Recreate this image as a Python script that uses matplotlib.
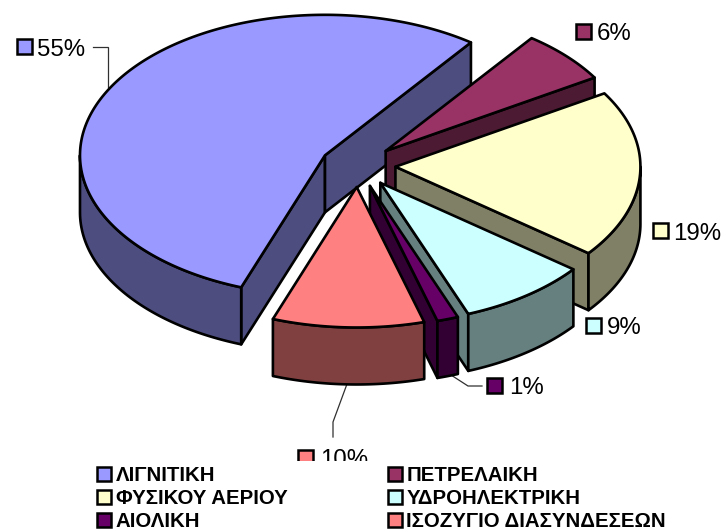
import numpy as np
import matplotlib
matplotlib.use("Agg")
import matplotlib.pyplot as plt
from matplotlib.font_manager import FontProperties
from matplotlib.patches import Polygon, Patch, Rectangle

# ---- data ----
categories = ["ΛΙΓΝΙΤΙΚΗ", "ΠΕΤΡΕΛΑΙΚΗ", "ΦΥΣΙΚΟΥ ΑΕΡΙΟΥ", "ΥΔΡΟΗΛΕΚΤΡΙΚΗ", "ΑΙΟΛΙΚΗ", "ΙΣΟΖΥΓΙΟ ΔΙΑΣΥΝΔΕΣΕΩΝ"]
values = [54.6, 6.1, 19.3, 8.6, 1.4, 10.0]

# ---- style ----
top_colors = ["#9999FF", "#993366", "#FFFFCC", "#CCFFFF", "#660066", "#FF8080"]
side_colors = ["#4D4D80", "#4D1A33", "#808066", "#668080", "#330033", "#804040"]

plt.rcParams["font.family"] = ["Liberation Sans", "DejaVu Sans"]

W, H = 725, 529
fig = plt.figure(figsize=(W / 100, H / 100), dpi=100)
ax = fig.add_axes([0, 0, 1, 1])
ax.set_xlim(0, W)
ax.set_ylim(H, 0)
ax.axis("off")

# 3-D pie projection
CX, CY = 358, 165.5
A, B = 245, 140.5
DEPTH = 57
EXPLODE = 0.153
START = 200
LW = 1.9


def pt(th, r=1.0, ox=0.0, oy=0.0):
    th = np.radians(th)
    return np.column_stack((ox + r * A * np.sin(th), oy - r * B * np.cos(th)))


def poly(xy, color, z):
    ax.add_patch(Polygon(xy, closed=True, facecolor=color, edgecolor="black",
                         linewidth=LW, joinstyle="round", zorder=z))


angle = START
for i, v in enumerate(values):
    a0, a1 = angle, angle + v * 3.6
    angle = a1
    mid = (a0 + a1) / 2
    ox = CX + EXPLODE * A * np.sin(np.radians(mid))
    oy = CY - EXPLODE * B * np.cos(np.radians(mid))
    apex = np.array([[ox, oy]])
    down = np.array([0, DEPTH])
    z = 2 + i
    # radial walls that face the viewer
    for th, visible in ((a0, np.sin(np.radians(a0)) < 0), (a1, np.sin(np.radians(a1)) > 0)):
        if visible:
            e = pt(th, 1, ox, oy)
            poly(np.vstack((apex, e, e + down, apex + down)), side_colors[i], z)
    # outer wall
    for shift in (0, 360):
        lo, hi = max(a0, 90 + shift), min(a1, 270 + shift)
        if hi > lo:
            arc = pt(np.linspace(lo, hi, 80), 1, ox, oy)
            poly(np.vstack((arc, arc[::-1] + down)), side_colors[i], z)
    # top face
    arc = pt(np.linspace(a0, a1, 200), 1, ox, oy)
    poly(np.vstack((apex, arc)), top_colors[i], z)

# ---- data labels (key square + text) ----
key_xy = [(17, 39), (576, 24), (653, 223), (586, 318), (487, 378), (298, 450)]
txt_xy = [(37, 47), (597, 32), (673, 231), (607, 325), (509, 386), (320, 458)]
for i, v in enumerate(values):
    ax.add_patch(Rectangle(key_xy[i], 15, 15, facecolor=top_colors[i], edgecolor="black",
                           linewidth=1.8, zorder=20))
    ax.text(*txt_xy[i], f"{round(v)}%", fontsize=17.3, color="black", va="center_baseline",
            ha="left", zorder=20)

# leader lines
leaders = [([93, 108, 108], [47, 47, 87]),
           ([347, 333, 333], [384, 422, 437]),
           ([451, 468, 482], [375, 386, 386])]
for lx, ly in leaders:
    ax.plot(lx, ly, color="#303030", lw=0.9, zorder=1, solid_joinstyle="miter")

# white legend area hides the lower part of the 10% label
ax.add_patch(Rectangle((0, 461), W, H - 461, facecolor="white", edgecolor="none", zorder=25))

# ---- legend (column-first fill gives the two-column row order) ----
handles = [Patch(facecolor=c, edgecolor="black", linewidth=1.8) for c in top_colors]
order = [0, 2, 4, 1, 3, 5]
leg = ax.legend([handles[i] for i in order], [categories[i] for i in order],
                ncol=2, loc="upper left", bbox_to_anchor=(97 / W, 1 - 466 / H),
                frameon=False, borderpad=0, borderaxespad=0,
                prop=FontProperties(family="Liberation Sans", weight="bold", size=14.7),
                handlelength=0.7, handleheight=0.7, handletextpad=0.22,
                labelspacing=0.2, columnspacing=4.9)
leg.set_zorder(30)

fig.savefig("out.png", dpi=100, facecolor="white")
